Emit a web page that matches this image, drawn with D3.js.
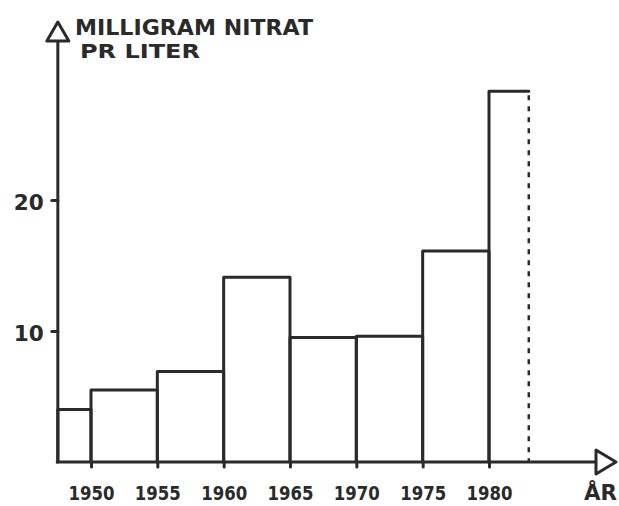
<!DOCTYPE html>
<html>
<head>
<meta charset="utf-8">
<script src="https://cdn.jsdelivr.net/npm/d3@7"></script>
<style>
  html, body { margin: 0; padding: 0; background: #fff; }
  svg { display: block; }
  text { font-family: "DejaVu Sans", sans-serif; font-weight: bold; fill: #2a2a2a; }
</style>
</head>
<body>
<svg id="chart" width="619" height="506"></svg>
<script>
// ---- data ----
const binStarts = [1947.5, 1950, 1955, 1960, 1965, 1970, 1975, 1980];
const binEnds   = [1950, 1955, 1960, 1965, 1970, 1975, 1980, 1983];
const values    = [4.0, 5.5, 6.9, 14.1, 9.5, 9.6, 16.1, 28.3];
const yearTicks = [1950, 1955, 1960, 1965, 1970, 1975, 1980];
const valueTicks = [10, 20];
const yTitleLines = ["MILLIGRAM NITRAT", "PR LITER"];
const xTitle = "ÅR";

const svg = d3.select("#chart");
const ink = "#2a2a2a";
const sw = 3;

const x = d3.scaleLinear().domain([1950, 1980]).range([91, 489]);
const y = d3.scaleLinear().domain([0, 30]).range([462, 69]);
const x0 = x(1947.5);
const y0 = y(0);

// bars
const g = svg.append("g");
values.forEach((v, i) => {
  const xl = x(binStarts[i]), xr = x(binEnds[i]), yt = y(v);
  const last = i === values.length - 1;
  if (!last) {
    g.append("path")
      .attr("d", `M${xl},${y0}V${yt}H${xr}V${y0}`)
      .attr("fill", "none").attr("stroke", ink).attr("stroke-width", sw)
      .attr("stroke-linejoin", "round").attr("stroke-linecap", "round");
  } else {
    g.append("path")
      .attr("d", `M${xl},${y0}V${yt}H${xr}`)
      .attr("fill", "none").attr("stroke", ink).attr("stroke-width", sw)
      .attr("stroke-linejoin", "round").attr("stroke-linecap", "round");
    g.append("path")
      .attr("d", `M${xr},${yt + 4}V${y0}`)
      .attr("fill", "none").attr("stroke", ink).attr("stroke-width", 2.5)
      .attr("stroke-dasharray", "5,6");
  }
});

// x axis via d3
const xAxis = d3.axisBottom(x).tickValues(yearTicks).tickFormat(d3.format("d"))
  .tickSize(5).tickPadding(21);
const gx = svg.append("g").attr("transform", `translate(0,${y0})`).call(xAxis);
gx.select(".domain").remove();
gx.selectAll(".tick line").attr("stroke", ink).attr("stroke-width", sw).attr("stroke-linecap", "round");
gx.selectAll(".tick text").attr("font-size", 20).attr("fill", ink)
  .attr("y", 24).attr("dy", "0.71em")
  .attr("textLength", 46).attr("lengthAdjust", "spacingAndGlyphs")
  .attr("font-family", "DejaVu Sans Condensed, DejaVu Sans, sans-serif");

// y axis via d3
const yAxis = d3.axisLeft(y).tickValues(valueTicks).tickSize(6).tickPadding(8);
const gy = svg.append("g").attr("transform", `translate(${x0},0)`).call(yAxis);
gy.select(".domain").remove();
gy.selectAll(".tick line").attr("stroke", ink).attr("stroke-width", sw).attr("stroke-linecap", "round");
gy.selectAll(".tick text").attr("font-size", 22).attr("fill", ink).attr("dy", "0.42em")
  .attr("textLength", 30).attr("lengthAdjust", "spacingAndGlyphs");

// axis lines with hollow arrowheads
svg.append("path").attr("d", `M${x0},${y0}V41`)
  .attr("stroke", ink).attr("stroke-width", sw).attr("fill", "none");
svg.append("path").attr("d", `M${x0},22L${x0 - 11},41H${x0 + 11}Z`)
  .attr("stroke", ink).attr("stroke-width", sw).attr("fill", "none").attr("stroke-linejoin", "round");
svg.append("path").attr("d", `M${x0 - 2},${y0}H596`)
  .attr("stroke", ink).attr("stroke-width", sw).attr("fill", "none");
svg.append("path").attr("d", `M596,${y0 - 12}L616,${y0}L596,${y0 + 12}Z`)
  .attr("stroke", ink).attr("stroke-width", sw).attr("fill", "none").attr("stroke-linejoin", "round");

// titles
svg.append("text").attr("x", 75).attr("y", 35).attr("font-size", 22)
  .attr("textLength", 238).attr("lengthAdjust", "spacingAndGlyphs").text(yTitleLines[0]);
svg.append("text").attr("x", 80).attr("y", 58).attr("font-size", 20)
  .attr("textLength", 120).attr("lengthAdjust", "spacingAndGlyphs").text(yTitleLines[1]);
svg.append("text").attr("x", 584).attr("y", 500).attr("font-size", 21)
  .attr("textLength", 33).attr("lengthAdjust", "spacingAndGlyphs").text(xTitle);
</script>
</body>
</html>
